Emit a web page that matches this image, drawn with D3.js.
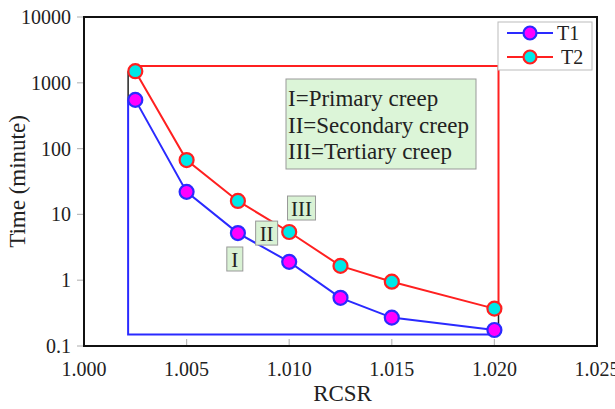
<!DOCTYPE html>
<html lang="en">
<head>
<meta charset="UTF-8">
<title>Creep time vs RCSR</title>
<script src="https://d3js.org/d3.v7.min.js"></script>
<style>
  body { margin: 0; background: #fff; }
</style>
</head>
<body>
<script>

var rcsr = [1.0025, 1.005, 1.0075, 1.010, 1.0125, 1.015, 1.020];
var t1 = [550, 22, 5.2, 1.9, 0.54, 0.27, 0.175];
var t2 = [1500, 67, 16, 5.4, 1.65, 0.95, 0.37];
var xTicks = [1.000, 1.005, 1.010, 1.015, 1.020, 1.025];
var yTicks = [0.1, 1, 10, 100, 1000, 10000];

// stage boxes (outline of the creep regions)
var bluePath = [[1.00215, 550], [1.00215, 0.15], [1.020, 0.15]];
var redPath = [[1.0025, 1800], [1.0202, 1800], [1.0202, 0.37]];
var blackPaths = [[[1.00215, 1500], [1.00215, 550]], [[1.0202, 0.37], [1.0202, 0.175]]];

var stageLabels = ["I", "II", "III"];
var stageX = [1.00735, 1.0089, 1.0106];
var stageY = [2.1, 5.2, 12.5];
var noteLines = ["I=Primary creep", "II=Secondary creep", "III=Tertiary creep"];

var W = 615, H = 409;
var m = { left: 84, top: 17, right: 18, bottom: 63 };
var serif = "'Liberation Serif', 'Times New Roman', serif";

var svg = d3.select("body").append("svg")
    .attr("width", W)
    .attr("height", H)
    .style("font-family", serif);

var x = d3.scaleLinear().domain([1.000, 1.025]).range([m.left, W - m.right]);
var y = d3.scaleLog().domain([0.1, 10000]).range([H - m.bottom, m.top]);

// ticks
svg.append("g").selectAll("line")
    .data(yTicks)
    .enter().append("line")
    .attr("x1", m.left - 7).attr("x2", m.left + 1)
    .attr("y1", d => y(d)).attr("y2", d => y(d))
    .attr("stroke", "#bbb").attr("stroke-width", 1.2);

svg.append("g").selectAll("line")
    .data(xTicks)
    .enter().append("line")
    .attr("x1", d => x(d)).attr("x2", d => x(d))
    .attr("y1", H - m.bottom).attr("y2", H - m.bottom - 7)
    .attr("stroke", "#bbb").attr("stroke-width", 1.2);

svg.append("g").selectAll("text")
    .data(yTicks)
    .enter().append("text")
    .attr("x", m.left - 13)
    .attr("y", d => y(d) + 7)
    .attr("text-anchor", "end")
    .attr("font-size", 20)
    .attr("fill", "#222")
    .text(d => d);

svg.append("g").selectAll("text")
    .data(xTicks)
    .enter().append("text")
    .attr("x", d => x(d))
    .attr("y", H - m.bottom + 30)
    .attr("text-anchor", "middle")
    .attr("font-size", 20)
    .attr("fill", "#222")
    .text(d => d3.format(".3f")(d));

svg.append("text")
    .attr("x", x(1.0126))
    .attr("y", H - 8)
    .attr("text-anchor", "middle")
    .attr("font-size", 23)
    .attr("fill", "#222")
    .text("RCSR");

svg.append("text")
    .attr("transform", "translate(25," + ((m.top + H - m.bottom) / 2) + ") rotate(-90)")
    .attr("text-anchor", "middle")
    .attr("font-size", 23)
    .attr("fill", "#222")
    .text("Time (minute)");

// region outlines
var line = d3.line().x(d => x(d[0])).y(d => y(d[1]));

svg.append("path").attr("d", line(bluePath))
    .attr("fill", "none").attr("stroke", "#2a2aff").attr("stroke-width", 2);
svg.append("path").attr("d", line(redPath))
    .attr("fill", "none").attr("stroke", "#ff2020").attr("stroke-width", 2);
blackPaths.forEach(function (p) {
    svg.append("path").attr("d", line(p))
        .attr("fill", "none").attr("stroke", "#222").attr("stroke-width", 1.5);
});

// series
var series = [
    { name: "T1", vals: t1, stroke: "#2a2aff", fill: "#ff00ff" },
    { name: "T2", vals: t2, stroke: "#ff2020", fill: "#00e8e8" }
];

series.forEach(function (s) {
    var pts = rcsr.map((r, i) => [r, s.vals[i]]);
    svg.append("path").attr("d", line(pts))
        .attr("fill", "none").attr("stroke", s.stroke).attr("stroke-width", 2);
    svg.append("g").selectAll("circle")
        .data(pts)
        .enter().append("circle")
        .attr("cx", d => x(d[0]))
        .attr("cy", d => y(d[1]))
        .attr("r", 7)
        .attr("fill", s.fill)
        .attr("stroke", s.stroke)
        .attr("stroke-width", 2.2);
});

// small stage labels
stageLabels.forEach(function (lab, i) {
    var g = svg.append("g").attr("transform", "translate(" + x(stageX[i]) + "," + y(stageY[i]) + ")");
    var w = 10 + lab.length * 6;
    g.append("rect")
        .attr("x", -w / 2).attr("y", -12).attr("width", w).attr("height", 24)
        .attr("fill", "#d9f2d4").attr("stroke", "#999").attr("stroke-width", 1);
    g.append("text")
        .attr("y", 8).attr("text-anchor", "middle").attr("font-size", 21)
        .attr("fill", "#222")
        .text(lab);
});

// note box
svg.append("rect")
    .attr("x", 286).attr("y", 79).attr("width", 190).attr("height", 90)
    .attr("fill", "#dcf5d8").attr("stroke", "#999").attr("stroke-width", 1);
svg.append("g").selectAll("text")
    .data(noteLines)
    .enter().append("text")
    .attr("x", 288)
    .attr("y", (d, i) => 106 + i * 26.5)
    .attr("font-size", 23)
    .attr("fill", "#222")
    .text(d => d);

// frame
svg.append("rect")
    .attr("x", m.left).attr("y", m.top)
    .attr("width", W - m.right - m.left).attr("height", H - m.bottom - m.top)
    .attr("fill", "none").attr("stroke", "#111").attr("stroke-width", 2);

// legend
var lg = svg.append("g").attr("transform", "translate(498,22)");
lg.append("rect")
    .attr("width", 94).attr("height", 48)
    .attr("fill", "#fff").attr("stroke", "#bbb").attr("stroke-width", 1);
series.forEach(function (s, i) {
    var row = lg.append("g").attr("transform", "translate(0," + (11 + i * 24) + ")");
    row.append("line").attr("x1", 9).attr("x2", 55)
        .attr("stroke", s.stroke).attr("stroke-width", 2);
    row.append("circle").attr("cx", 32).attr("r", 6.5)
        .attr("fill", s.fill).attr("stroke", s.stroke).attr("stroke-width", 2.2);
    row.append("text").attr("x", i === 0 ? 59 : 63).attr("y", 7)
        .attr("font-size", 20).attr("fill", "#222").text(s.name);
});

</script>
</body>
</html>
